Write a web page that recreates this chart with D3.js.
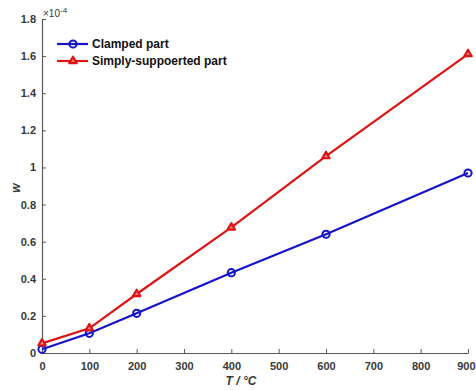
<!DOCTYPE html>
<html>
<head>
<meta charset="utf-8">
<script src="https://cdn.jsdelivr.net/npm/d3@7"></script>
<style>
  html, body { margin: 0; padding: 0; background: #fff; }
  svg { display: block; font-family: Arial, "Liberation Sans", sans-serif; }
</style>
</head>
<body>
<svg id="chart" width="476" height="390"></svg>
<script>
// Temperature steps (°C)
const temps = [0, 100, 200, 400, 600, 900];
// Deflection w, in units of 1e-4
const clamped = [0.02, 0.106, 0.214, 0.433, 0.64, 0.97];
const simplySupported = [0.052, 0.133, 0.318, 0.677, 1.061, 1.611];

const xTicks = [0, 100, 200, 300, 400, 500, 600, 700, 800, 900];
const yTicks = [0, 0.2, 0.4, 0.6, 0.8, 1, 1.2, 1.4, 1.6, 1.8];

const seriesNames = ["Clamped part", "Simply-suppoerted part"];

const svg = d3.select("#chart");
const W = 476;

const x = d3.scaleLinear().domain([0, 900]).range([42, 468]);
const y = d3.scaleLinear().domain([0, 1.8]).range([353, 19]);

const axisColor = "#5a5a5a";
const textColor = "#383838";

// X axis (ticks pointing inward)
const gx = svg.append("g").attr("transform", `translate(0,${y(0)})`)
  .call(d3.axisBottom(x).tickValues(xTicks).tickSizeInner(-4).tickSizeOuter(0)
    .tickFormat(d3.format("d")));
gx.select(".domain").attr("stroke", axisColor).attr("stroke-width", 1.2);
gx.selectAll(".tick line").attr("stroke", axisColor);
gx.selectAll(".tick text").attr("fill", textColor).attr("font-size", 11)
  .attr("font-weight", "bold").attr("dy", "0.71em").attr("y", 9);
// keep the last tick label inside the page edge
gx.selectAll(".tick text").filter(d => d === 900)
  .attr("text-anchor", "end").attr("x", W - 1 - x(900));

// Y axis (ticks pointing inward)
const gy = svg.append("g").attr("transform", `translate(${x(0)},0)`)
  .call(d3.axisLeft(y).tickValues(yTicks).tickSizeInner(-4).tickSizeOuter(0)
    .tickFormat(d => d === 0 ? "0" : d === 1 ? "1" : d3.format(".1f")(d)));
gy.select(".domain").attr("stroke", axisColor).attr("stroke-width", 1.2);
gy.selectAll(".tick line").attr("stroke", axisColor);
gy.selectAll(".tick text").attr("fill", textColor).attr("font-size", 11)
  .attr("font-weight", "bold").attr("x", -6);

// Exponent label
const exp = svg.append("text").attr("x", x(0) + 1).attr("y", 17)
  .attr("fill", textColor).attr("font-size", 10);
exp.append("tspan").text("×10");
exp.append("tspan").attr("dy", -4).attr("font-size", 8).text("-4");

// Axis titles
svg.append("text").attr("transform", `translate(20,${(y(0) + y(1.8)) / 2 + 2}) rotate(-90)`)
  .attr("text-anchor", "middle").attr("fill", textColor).attr("font-size", 12)
  .attr("font-weight", "bold").attr("font-style", "italic").text("w");

svg.append("text").attr("x", 241).attr("y", 385).attr("text-anchor", "middle")
  .attr("fill", textColor).attr("font-size", 12).attr("font-weight", "bold")
  .attr("font-style", "italic").text("T / °C");

const colors = ["#1414cc", "#dd1515"];
const line = d3.line().x(d => x(d[0])).y(d => y(d[1]));

const triangle = d3.symbol().type(d3.symbolTriangle).size(24);

function drawMarker(g, cx, cy, i) {
  if (i === 0) {
    g.append("circle").attr("cx", cx).attr("cy", cy).attr("r", 3.6)
      .attr("fill", "none").attr("stroke", colors[0]).attr("stroke-width", 2);
  } else {
    g.append("path").attr("d", triangle()).attr("transform", `translate(${cx},${cy})`)
      .attr("fill", "#f08080").attr("stroke", colors[1]).attr("stroke-width", 2.2)
      .attr("stroke-linejoin", "round");
  }
}

[clamped, simplySupported].forEach((vals, i) => {
  const pts = temps.map((t, k) => [t, vals[k]]);
  const g = svg.append("g");
  g.append("path").datum(pts).attr("d", line).attr("fill", "none")
    .attr("stroke", colors[i]).attr("stroke-width", 2.2);
  pts.forEach(p => drawMarker(g, x(p[0]), y(p[1]), i));
});

// Legend
const legY = [44, 61];
seriesNames.forEach((name, i) => {
  const g = svg.append("g");
  g.append("line").attr("x1", 57).attr("x2", 88).attr("y1", legY[i]).attr("y2", legY[i])
    .attr("stroke", colors[i]).attr("stroke-width", 2.2);
  drawMarker(g, 73, legY[i], i);
  g.append("text").attr("x", 92).attr("y", legY[i]).attr("dy", "0.35em")
    .attr("font-size", 12).attr("font-weight", "bold").attr("fill", "#111").text(name);
});
</script>
</body>
</html>
